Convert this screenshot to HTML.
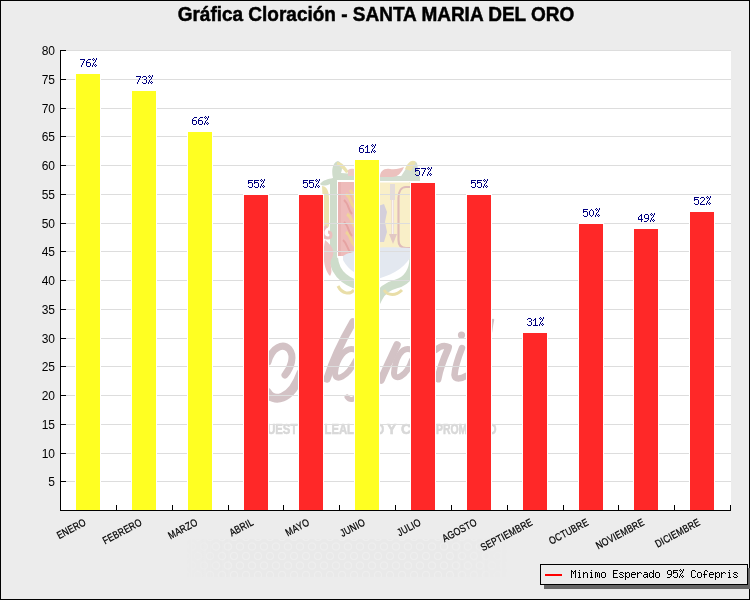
<!DOCTYPE html><html><head><meta charset="utf-8"><style>html,body{margin:0;padding:0;width:750px;height:600px;overflow:hidden;background:#ececec}svg{display:block;will-change:transform}text{font-family:"Liberation Sans",sans-serif}.m{font-family:"Liberation Mono",monospace}</style></head><body>
<svg width="750" height="600" viewBox="0 0 750 600">
<rect x="0" y="0" width="750" height="600" fill="#000"/>
<rect x="1" y="1" width="748" height="598" fill="#ececec"/>
<defs><pattern id="hex" x="0" y="0" width="12" height="19" patternUnits="userSpaceOnUse"><rect width="12" height="19" fill="#e5e5e5"/><circle cx="6" cy="5" r="3.6" fill="none" stroke="#f3f3f3" stroke-width="1.3"/><circle cx="0" cy="14.5" r="3.6" fill="none" stroke="#f3f3f3" stroke-width="1.3"/><circle cx="12" cy="14.5" r="3.6" fill="none" stroke="#f3f3f3" stroke-width="1.3"/></pattern><linearGradient id="bfade" x1="0" x2="1" y1="0" y2="0"><stop offset="0" stop-color="#fff" stop-opacity="0"/><stop offset="0.15" stop-color="#fff" stop-opacity="0.4"/><stop offset="0.8" stop-color="#fff" stop-opacity="0.4"/><stop offset="1" stop-color="#fff" stop-opacity="0"/></linearGradient><mask id="bmask"><rect x="185" y="538" width="325" height="40" fill="url(#bfade)"/></mask></defs>
<rect x="185" y="539" width="325" height="38" fill="url(#hex)" mask="url(#bmask)"/>
<text x="0" y="0" font-size="20.5" font-weight="bold" text-anchor="middle" fill="#000" stroke="#000" stroke-width="0.5" transform="translate(376,21) scale(0.927,1)">Gráfica Cloración - SANTA MARIA DEL ORO</text>
<rect x="61" y="50" width="670" height="460" fill="#fff"/>
<g id="coat">
<!-- left yellow edge -->
<path d="M322,186 C326,186 329,190 329,198 L329,226 C327,230 324,228 324,224 Z" fill="#ebe2ae"/>
<!-- left top knob + shoulder (green) -->
<path d="M333,178 C331,170 333,162 338,161 C342,162 343,168 341,173 L356,174 L356,180 L337,180 L337,262 L330,262 L330,184 C326,186 322,186 320,184 C323,180 328,179 333,178 Z" fill="#cfdccb"/>
<path d="M337,162 C342,162 345,166 349,172 L346,173 C343,169 340,166 337,165 Z" fill="#ebe2ae"/>
<path d="M348,170 C351,168 354,169 356,170 L356,176 L348,176 Z" fill="#eccbc9"/>
<!-- right top band + triangle -->
<path d="M378,176 L420,176 L420,181 L378,181 Z" fill="#d3ddd0"/>
<path d="M398,181 L407,167 C410,161 414,160 417,163 L420,181 Z" fill="#d3ddd0"/>
<path d="M405,169 C408,162 412,159 416,162 L411,171 Z" fill="#ebe2ae"/>
<path d="M380,177 C380,171 384,168 390,169 C396,170 400,168 404,167 C402,172 398,177 392,177 Z" fill="#ecc1be"/>
<!-- bottom green curve -->
<path d="M333.5,258 C335,276 350,284 366,287 C372,289 376,292 378,298 C382,290 388,286 396,284 C408,281 414,270 414,258 L414,182" fill="none" stroke="#cddcca" stroke-width="9"/>
<!-- pink left panel -->
<path d="M338,182 L372,182 L372,256 L338,256 Z" fill="#eebbba"/>
<path d="M338,182 L341,182 L341,256 L338,256 Z" fill="#e9b3b2"/>
<!-- flames -->
<path d="M346,194 C352,198 350,204 355,208 M347,214 C353,218 351,224 356,228 M346,232 C352,236 350,242 355,246 M350,190 C356,196 354,202 358,206 M351,220 C356,224 355,232 360,236" fill="none" stroke="#f0d39a" stroke-width="3"/>
<path d="M344,200 C349,204 348,210 352,214 M344,222 C349,226 348,232 352,236 M343,240 C348,244 347,250 351,253" fill="none" stroke="#e6a3a2" stroke-width="2"/>
<!-- pale yellow right panel -->
<path d="M372,182.5 L410,182.5 L410,248 L372,248 Z" fill="#f9efc8"/>
<!-- arrow -->
<rect x="391.5" y="186" width="2.5" height="54" fill="#e6d2cf"/>
<rect x="392.3" y="198" width="1" height="36" fill="#ffffff"/>
<path d="M390,184 L395,184 L395,200 L390,200 Z" fill="#e4dcda"/>
<path d="M389,234 L397,234 L393,244 Z" fill="#e2c8c4"/>
<!-- bow -->
<path d="M410,187 L406,187 C401,187 398.5,192 398.5,198 L398.5,240 C398.5,245 401,248 406,248 L410,248" fill="none" stroke="#dfbcba" stroke-width="2.2"/>
<!-- gray figure -->
<path d="M378,206 L384,204 L387,212 L385,222 L387,232 L384,242 L378,242 Z" fill="#d4cfdb"/>
<!-- blue white mountains -->
<path d="M343,256 C352,250 362,252 372,249 C385,246 398,248 410,248 L410,258 C402,270 390,276 373,280 C358,276 348,270 343,260 Z" fill="#e3e8f0"/>
<!-- left mantling pink -->
<path d="M327,226 C321,230 322,238 328,238 C332,238 332,232 328,232" fill="none" stroke="#ebbfbe" stroke-width="3"/>
<path d="M325,240 C330,244 336,250 332,258 C328,264 334,270 330,276 C324,270 322,256 325,240 Z" fill="#ecc4c3"/>
<!-- bottom curls -->
<path d="M338,286 C342,294 350,295 354,290" fill="none" stroke="#e9dea8" stroke-width="3"/>
<path d="M384,290 C388,296 396,296 402,290" fill="none" stroke="#e9dea8" stroke-width="3"/>
</g>
<g id="script" fill="none" stroke="#d3c2c5" stroke-linecap="round">
<path d="M285,375 C291,368 295,356 289,349 C283,343 272,347 268,362" stroke-width="7"/>
<path d="M267,392 C273,403 291,401 301,373" stroke-width="9"/>
<path d="M353,322 C346,334 334,356 327,379" stroke-width="7.5"/>
<path d="M356,350 C345,345 336,360 335,373 C335,382 347,378 356,360" stroke-width="6"/>
<path d="M347,397 C350,401 354,400 357,396" stroke-width="5"/>
<path d="M397,345 C392,356 386,368 381,380" stroke-width="7.5"/>
<path d="M412,350 C401,345 395,360 394,373 C394,381 406,378 412,360" stroke-width="6"/>
<path d="M436,350 C440,346 445,345 449,347" stroke-width="6"/>
<path d="M448,349 C444,358 440,368 438,379" stroke-width="7"/>
<path d="M462,348 C458,358 455,368 454.5,375 C455,380 461,379 466,376" stroke-width="6.5"/>
<path d="M493,320 C492,324 491.5,328 491,332" stroke-width="2.5"/>
<circle cx="461.5" cy="335" r="3.6" fill="#d3c2c5" stroke="none"/>
</g>
<g id="motto" fill="#d8d8d8" stroke="#d8d8d8" stroke-width="0.6" font-weight="bold" font-size="14.5">
<text x="0" y="0" transform="translate(259,434) scale(0.78,1)">NUEST</text>
<text x="0" y="0" transform="translate(324.5,434) scale(0.78,1)">LEAL</text>
<text x="0" y="0" transform="translate(376,434) scale(0.78,1)">D</text>
<text x="0" y="0" transform="translate(387,434) scale(0.97,1)">Y</text>
<text x="0" y="0" transform="translate(401,434) scale(0.97,1)">C</text>
<text x="0" y="0" transform="translate(436,434) scale(0.72,1)">PROM</text>
<text x="0" y="0" transform="translate(477,434) scale(0.78,1)">ISO</text>
</g>

<rect x="61" y="481" width="670" height="1" fill="#dddddd"/><rect x="61" y="453" width="670" height="1" fill="#dddddd"/><rect x="61" y="424" width="670" height="1" fill="#dddddd"/><rect x="61" y="395" width="670" height="1" fill="#dddddd"/><rect x="61" y="366" width="670" height="1" fill="#dddddd"/><rect x="61" y="338" width="670" height="1" fill="#dddddd"/><rect x="61" y="309" width="670" height="1" fill="#dddddd"/><rect x="61" y="280" width="670" height="1" fill="#dddddd"/><rect x="61" y="251" width="670" height="1" fill="#dddddd"/><rect x="61" y="223" width="670" height="1" fill="#dddddd"/><rect x="61" y="194" width="670" height="1" fill="#dddddd"/><rect x="61" y="165" width="670" height="1" fill="#dddddd"/><rect x="61" y="136" width="670" height="1" fill="#dddddd"/><rect x="61" y="108" width="670" height="1" fill="#dddddd"/><rect x="61" y="79" width="670" height="1" fill="#dddddd"/><rect x="61" y="50" width="670" height="1" fill="#dddddd"/>
<rect x="75" y="73" width="26" height="437" fill="#fff"/>
<rect x="76" y="74" width="24" height="436" fill="#ffff22"/>
<path d="M80 59h5v1h-5zM84 60h1v1h-1zM83 61h1v1h-1zM83 62h1v1h-1zM82 63h1v1h-1zM82 64h1v1h-1zM81 65h1v1h-1zM81 66h1v1h-1zM88 59h3v1h-3zM87 60h1v1h-1zM86 61h1v1h-1zM86 62h4v1h-4zM86 63h1v1h-1zM90 63h1v1h-1zM86 64h1v1h-1zM90 64h1v1h-1zM86 65h1v1h-1zM90 65h1v1h-1zM87 66h3v1h-3zM93 58h1v1h-1zM96 58h1v1h-1zM92 59h1v1h-1zM94 59h1v1h-1zM96 59h1v1h-1zM93 60h1v1h-1zM95 60h1v1h-1zM95 61h1v1h-1zM94 62h1v1h-1zM93 63h1v1h-1zM93 64h1v1h-1zM95 64h1v1h-1zM92 65h1v1h-1zM94 65h1v1h-1zM96 65h1v1h-1zM92 66h1v1h-1zM95 66h1v1h-1z" fill="#000080" shape-rendering="crispEdges"/>
<rect x="131" y="90" width="26" height="420" fill="#fff"/>
<rect x="132" y="91" width="24" height="419" fill="#ffff22"/>
<path d="M136 76h5v1h-5zM140 77h1v1h-1zM139 78h1v1h-1zM139 79h1v1h-1zM138 80h1v1h-1zM138 81h1v1h-1zM137 82h1v1h-1zM137 83h1v1h-1zM143 76h3v1h-3zM142 77h1v1h-1zM146 77h1v1h-1zM146 78h1v1h-1zM144 79h2v1h-2zM146 80h1v1h-1zM146 81h1v1h-1zM142 82h1v1h-1zM146 82h1v1h-1zM143 83h3v1h-3zM149 75h1v1h-1zM152 75h1v1h-1zM148 76h1v1h-1zM150 76h1v1h-1zM152 76h1v1h-1zM149 77h1v1h-1zM151 77h1v1h-1zM151 78h1v1h-1zM150 79h1v1h-1zM149 80h1v1h-1zM149 81h1v1h-1zM151 81h1v1h-1zM148 82h1v1h-1zM150 82h1v1h-1zM152 82h1v1h-1zM148 83h1v1h-1zM151 83h1v1h-1z" fill="#000080" shape-rendering="crispEdges"/>
<rect x="187" y="131" width="26" height="379" fill="#fff"/>
<rect x="188" y="132" width="24" height="378" fill="#ffff22"/>
<path d="M194 117h3v1h-3zM193 118h1v1h-1zM192 119h1v1h-1zM192 120h4v1h-4zM192 121h1v1h-1zM196 121h1v1h-1zM192 122h1v1h-1zM196 122h1v1h-1zM192 123h1v1h-1zM196 123h1v1h-1zM193 124h3v1h-3zM200 117h3v1h-3zM199 118h1v1h-1zM198 119h1v1h-1zM198 120h4v1h-4zM198 121h1v1h-1zM202 121h1v1h-1zM198 122h1v1h-1zM202 122h1v1h-1zM198 123h1v1h-1zM202 123h1v1h-1zM199 124h3v1h-3zM205 116h1v1h-1zM208 116h1v1h-1zM204 117h1v1h-1zM206 117h1v1h-1zM208 117h1v1h-1zM205 118h1v1h-1zM207 118h1v1h-1zM207 119h1v1h-1zM206 120h1v1h-1zM205 121h1v1h-1zM205 122h1v1h-1zM207 122h1v1h-1zM204 123h1v1h-1zM206 123h1v1h-1zM208 123h1v1h-1zM204 124h1v1h-1zM207 124h1v1h-1z" fill="#000080" shape-rendering="crispEdges"/>
<rect x="243" y="194" width="26" height="316" fill="#fff"/>
<rect x="244" y="195" width="24" height="315" fill="#ff2828"/>
<path d="M248 180h5v1h-5zM248 181h1v1h-1zM248 182h4v1h-4zM248 183h1v1h-1zM252 183h1v1h-1zM252 184h1v1h-1zM252 185h1v1h-1zM248 186h1v1h-1zM252 186h1v1h-1zM249 187h3v1h-3zM254 180h5v1h-5zM254 181h1v1h-1zM254 182h4v1h-4zM254 183h1v1h-1zM258 183h1v1h-1zM258 184h1v1h-1zM258 185h1v1h-1zM254 186h1v1h-1zM258 186h1v1h-1zM255 187h3v1h-3zM261 179h1v1h-1zM264 179h1v1h-1zM260 180h1v1h-1zM262 180h1v1h-1zM264 180h1v1h-1zM261 181h1v1h-1zM263 181h1v1h-1zM263 182h1v1h-1zM262 183h1v1h-1zM261 184h1v1h-1zM261 185h1v1h-1zM263 185h1v1h-1zM260 186h1v1h-1zM262 186h1v1h-1zM264 186h1v1h-1zM260 187h1v1h-1zM263 187h1v1h-1z" fill="#000080" shape-rendering="crispEdges"/>
<rect x="298" y="194" width="26" height="316" fill="#fff"/>
<rect x="299" y="195" width="24" height="315" fill="#ff2828"/>
<path d="M303 180h5v1h-5zM303 181h1v1h-1zM303 182h4v1h-4zM303 183h1v1h-1zM307 183h1v1h-1zM307 184h1v1h-1zM307 185h1v1h-1zM303 186h1v1h-1zM307 186h1v1h-1zM304 187h3v1h-3zM309 180h5v1h-5zM309 181h1v1h-1zM309 182h4v1h-4zM309 183h1v1h-1zM313 183h1v1h-1zM313 184h1v1h-1zM313 185h1v1h-1zM309 186h1v1h-1zM313 186h1v1h-1zM310 187h3v1h-3zM316 179h1v1h-1zM319 179h1v1h-1zM315 180h1v1h-1zM317 180h1v1h-1zM319 180h1v1h-1zM316 181h1v1h-1zM318 181h1v1h-1zM318 182h1v1h-1zM317 183h1v1h-1zM316 184h1v1h-1zM316 185h1v1h-1zM318 185h1v1h-1zM315 186h1v1h-1zM317 186h1v1h-1zM319 186h1v1h-1zM315 187h1v1h-1zM318 187h1v1h-1z" fill="#000080" shape-rendering="crispEdges"/>
<rect x="354" y="159" width="26" height="351" fill="#fff"/>
<rect x="355" y="160" width="24" height="350" fill="#ffff22"/>
<path d="M361 145h3v1h-3zM360 146h1v1h-1zM359 147h1v1h-1zM359 148h4v1h-4zM359 149h1v1h-1zM363 149h1v1h-1zM359 150h1v1h-1zM363 150h1v1h-1zM359 151h1v1h-1zM363 151h1v1h-1zM360 152h3v1h-3zM367 145h1v1h-1zM366 146h2v1h-2zM365 147h1v1h-1zM367 147h1v1h-1zM367 148h1v1h-1zM367 149h1v1h-1zM367 150h1v1h-1zM367 151h1v1h-1zM365 152h5v1h-5zM372 144h1v1h-1zM375 144h1v1h-1zM371 145h1v1h-1zM373 145h1v1h-1zM375 145h1v1h-1zM372 146h1v1h-1zM374 146h1v1h-1zM374 147h1v1h-1zM373 148h1v1h-1zM372 149h1v1h-1zM372 150h1v1h-1zM374 150h1v1h-1zM371 151h1v1h-1zM373 151h1v1h-1zM375 151h1v1h-1zM371 152h1v1h-1zM374 152h1v1h-1z" fill="#000080" shape-rendering="crispEdges"/>
<rect x="410" y="182" width="26" height="328" fill="#fff"/>
<rect x="411" y="183" width="24" height="327" fill="#ff2828"/>
<path d="M415 168h5v1h-5zM415 169h1v1h-1zM415 170h4v1h-4zM415 171h1v1h-1zM419 171h1v1h-1zM419 172h1v1h-1zM419 173h1v1h-1zM415 174h1v1h-1zM419 174h1v1h-1zM416 175h3v1h-3zM421 168h5v1h-5zM425 169h1v1h-1zM424 170h1v1h-1zM424 171h1v1h-1zM423 172h1v1h-1zM423 173h1v1h-1zM422 174h1v1h-1zM422 175h1v1h-1zM428 167h1v1h-1zM431 167h1v1h-1zM427 168h1v1h-1zM429 168h1v1h-1zM431 168h1v1h-1zM428 169h1v1h-1zM430 169h1v1h-1zM430 170h1v1h-1zM429 171h1v1h-1zM428 172h1v1h-1zM428 173h1v1h-1zM430 173h1v1h-1zM427 174h1v1h-1zM429 174h1v1h-1zM431 174h1v1h-1zM427 175h1v1h-1zM430 175h1v1h-1z" fill="#000080" shape-rendering="crispEdges"/>
<rect x="466" y="194" width="26" height="316" fill="#fff"/>
<rect x="467" y="195" width="24" height="315" fill="#ff2828"/>
<path d="M471 180h5v1h-5zM471 181h1v1h-1zM471 182h4v1h-4zM471 183h1v1h-1zM475 183h1v1h-1zM475 184h1v1h-1zM475 185h1v1h-1zM471 186h1v1h-1zM475 186h1v1h-1zM472 187h3v1h-3zM477 180h5v1h-5zM477 181h1v1h-1zM477 182h4v1h-4zM477 183h1v1h-1zM481 183h1v1h-1zM481 184h1v1h-1zM481 185h1v1h-1zM477 186h1v1h-1zM481 186h1v1h-1zM478 187h3v1h-3zM484 179h1v1h-1zM487 179h1v1h-1zM483 180h1v1h-1zM485 180h1v1h-1zM487 180h1v1h-1zM484 181h1v1h-1zM486 181h1v1h-1zM486 182h1v1h-1zM485 183h1v1h-1zM484 184h1v1h-1zM484 185h1v1h-1zM486 185h1v1h-1zM483 186h1v1h-1zM485 186h1v1h-1zM487 186h1v1h-1zM483 187h1v1h-1zM486 187h1v1h-1z" fill="#000080" shape-rendering="crispEdges"/>
<rect x="522" y="332" width="26" height="178" fill="#fff"/>
<rect x="523" y="333" width="24" height="177" fill="#ff2828"/>
<path d="M528 318h3v1h-3zM527 319h1v1h-1zM531 319h1v1h-1zM531 320h1v1h-1zM529 321h2v1h-2zM531 322h1v1h-1zM531 323h1v1h-1zM527 324h1v1h-1zM531 324h1v1h-1zM528 325h3v1h-3zM535 318h1v1h-1zM534 319h2v1h-2zM533 320h1v1h-1zM535 320h1v1h-1zM535 321h1v1h-1zM535 322h1v1h-1zM535 323h1v1h-1zM535 324h1v1h-1zM533 325h5v1h-5zM540 317h1v1h-1zM543 317h1v1h-1zM539 318h1v1h-1zM541 318h1v1h-1zM543 318h1v1h-1zM540 319h1v1h-1zM542 319h1v1h-1zM542 320h1v1h-1zM541 321h1v1h-1zM540 322h1v1h-1zM540 323h1v1h-1zM542 323h1v1h-1zM539 324h1v1h-1zM541 324h1v1h-1zM543 324h1v1h-1zM539 325h1v1h-1zM542 325h1v1h-1z" fill="#000080" shape-rendering="crispEdges"/>
<rect x="578" y="223" width="26" height="287" fill="#fff"/>
<rect x="579" y="224" width="24" height="286" fill="#ff2828"/>
<path d="M583 209h5v1h-5zM583 210h1v1h-1zM583 211h4v1h-4zM583 212h1v1h-1zM587 212h1v1h-1zM587 213h1v1h-1zM587 214h1v1h-1zM583 215h1v1h-1zM587 215h1v1h-1zM584 216h3v1h-3zM591 209h1v1h-1zM590 210h1v1h-1zM592 210h1v1h-1zM589 211h1v1h-1zM593 211h1v1h-1zM589 212h1v1h-1zM593 212h1v1h-1zM589 213h1v1h-1zM593 213h1v1h-1zM589 214h1v1h-1zM593 214h1v1h-1zM590 215h1v1h-1zM592 215h1v1h-1zM591 216h1v1h-1zM596 208h1v1h-1zM599 208h1v1h-1zM595 209h1v1h-1zM597 209h1v1h-1zM599 209h1v1h-1zM596 210h1v1h-1zM598 210h1v1h-1zM598 211h1v1h-1zM597 212h1v1h-1zM596 213h1v1h-1zM596 214h1v1h-1zM598 214h1v1h-1zM595 215h1v1h-1zM597 215h1v1h-1zM599 215h1v1h-1zM595 216h1v1h-1zM598 216h1v1h-1z" fill="#000080" shape-rendering="crispEdges"/>
<rect x="633" y="228" width="26" height="282" fill="#fff"/>
<rect x="634" y="229" width="24" height="281" fill="#ff2828"/>
<path d="M641 214h1v1h-1zM640 215h2v1h-2zM639 216h1v1h-1zM641 216h1v1h-1zM638 217h1v1h-1zM641 217h1v1h-1zM638 218h1v1h-1zM641 218h1v1h-1zM638 219h5v1h-5zM641 220h1v1h-1zM641 221h1v1h-1zM645 214h3v1h-3zM644 215h1v1h-1zM648 215h1v1h-1zM644 216h1v1h-1zM648 216h1v1h-1zM644 217h1v1h-1zM648 217h1v1h-1zM645 218h4v1h-4zM648 219h1v1h-1zM647 220h1v1h-1zM644 221h3v1h-3zM651 213h1v1h-1zM654 213h1v1h-1zM650 214h1v1h-1zM652 214h1v1h-1zM654 214h1v1h-1zM651 215h1v1h-1zM653 215h1v1h-1zM653 216h1v1h-1zM652 217h1v1h-1zM651 218h1v1h-1zM651 219h1v1h-1zM653 219h1v1h-1zM650 220h1v1h-1zM652 220h1v1h-1zM654 220h1v1h-1zM650 221h1v1h-1zM653 221h1v1h-1z" fill="#000080" shape-rendering="crispEdges"/>
<rect x="689" y="211" width="26" height="299" fill="#fff"/>
<rect x="690" y="212" width="24" height="298" fill="#ff2828"/>
<path d="M694 197h5v1h-5zM694 198h1v1h-1zM694 199h4v1h-4zM694 200h1v1h-1zM698 200h1v1h-1zM698 201h1v1h-1zM698 202h1v1h-1zM694 203h1v1h-1zM698 203h1v1h-1zM695 204h3v1h-3zM701 197h3v1h-3zM700 198h1v1h-1zM704 198h1v1h-1zM704 199h1v1h-1zM703 200h1v1h-1zM702 201h1v1h-1zM701 202h1v1h-1zM700 203h1v1h-1zM700 204h5v1h-5zM707 196h1v1h-1zM710 196h1v1h-1zM706 197h1v1h-1zM708 197h1v1h-1zM710 197h1v1h-1zM707 198h1v1h-1zM709 198h1v1h-1zM709 199h1v1h-1zM708 200h1v1h-1zM707 201h1v1h-1zM707 202h1v1h-1zM709 202h1v1h-1zM706 203h1v1h-1zM708 203h1v1h-1zM710 203h1v1h-1zM706 204h1v1h-1zM709 204h1v1h-1z" fill="#000080" shape-rendering="crispEdges"/>
<rect x="60" y="50" width="1" height="461" fill="#000"/>
<rect x="60" y="510" width="671" height="1" fill="#000"/>
<rect x="60" y="481" width="6" height="1" fill="#000"/>
<text x="55" y="485.5" font-size="12" text-anchor="end" fill="#000">5</text>
<rect x="60" y="453" width="6" height="1" fill="#000"/>
<text x="55" y="457.5" font-size="12" text-anchor="end" fill="#000">10</text>
<rect x="60" y="424" width="6" height="1" fill="#000"/>
<text x="55" y="428.5" font-size="12" text-anchor="end" fill="#000">15</text>
<rect x="60" y="395" width="6" height="1" fill="#000"/>
<text x="55" y="399.5" font-size="12" text-anchor="end" fill="#000">20</text>
<rect x="60" y="366" width="6" height="1" fill="#000"/>
<text x="55" y="370.5" font-size="12" text-anchor="end" fill="#000">25</text>
<rect x="60" y="338" width="6" height="1" fill="#000"/>
<text x="55" y="342.5" font-size="12" text-anchor="end" fill="#000">30</text>
<rect x="60" y="309" width="6" height="1" fill="#000"/>
<text x="55" y="313.5" font-size="12" text-anchor="end" fill="#000">35</text>
<rect x="60" y="280" width="6" height="1" fill="#000"/>
<text x="55" y="284.5" font-size="12" text-anchor="end" fill="#000">40</text>
<rect x="60" y="251" width="6" height="1" fill="#000"/>
<text x="55" y="255.5" font-size="12" text-anchor="end" fill="#000">45</text>
<rect x="60" y="223" width="6" height="1" fill="#000"/>
<text x="55" y="227.5" font-size="12" text-anchor="end" fill="#000">50</text>
<rect x="60" y="194" width="6" height="1" fill="#000"/>
<text x="55" y="198.5" font-size="12" text-anchor="end" fill="#000">55</text>
<rect x="60" y="165" width="6" height="1" fill="#000"/>
<text x="55" y="169.5" font-size="12" text-anchor="end" fill="#000">60</text>
<rect x="60" y="136" width="6" height="1" fill="#000"/>
<text x="55" y="140.5" font-size="12" text-anchor="end" fill="#000">65</text>
<rect x="60" y="108" width="6" height="1" fill="#000"/>
<text x="55" y="112.5" font-size="12" text-anchor="end" fill="#000">70</text>
<rect x="60" y="79" width="6" height="1" fill="#000"/>
<text x="55" y="83.5" font-size="12" text-anchor="end" fill="#000">75</text>
<rect x="60" y="50" width="6" height="1" fill="#000"/>
<text x="55" y="54.5" font-size="12" text-anchor="end" fill="#000">80</text>
<rect x="116" y="505" width="1" height="5" fill="#000"/>
<rect x="172" y="505" width="1" height="5" fill="#000"/>
<rect x="228" y="505" width="1" height="5" fill="#000"/>
<rect x="283" y="505" width="1" height="5" fill="#000"/>
<rect x="339" y="505" width="1" height="5" fill="#000"/>
<rect x="395" y="505" width="1" height="5" fill="#000"/>
<rect x="451" y="505" width="1" height="5" fill="#000"/>
<rect x="507" y="505" width="1" height="5" fill="#000"/>
<rect x="563" y="505" width="1" height="5" fill="#000"/>
<rect x="618" y="505" width="1" height="5" fill="#000"/>
<rect x="674" y="505" width="1" height="5" fill="#000"/>
<rect x="730" y="505" width="1" height="5" fill="#000"/>
<text x="0" y="0" font-size="10.5" text-anchor="end" fill="#000" stroke="#000" stroke-width="0.25" letter-spacing="0.3" transform="translate(86.9,524.5) rotate(-28) scale(0.81,1)">ENERO</text>
<text x="0" y="0" font-size="10.5" text-anchor="end" fill="#000" stroke="#000" stroke-width="0.25" letter-spacing="0.3" transform="translate(142.8,524.5) rotate(-28) scale(0.81,1)">FEBRERO</text>
<text x="0" y="0" font-size="10.5" text-anchor="end" fill="#000" stroke="#000" stroke-width="0.25" letter-spacing="0.3" transform="translate(198.6,524.5) rotate(-28) scale(0.81,1)">MARZO</text>
<text x="0" y="0" font-size="10.5" text-anchor="end" fill="#000" stroke="#000" stroke-width="0.25" letter-spacing="0.3" transform="translate(254.4,524.5) rotate(-28) scale(0.81,1)">ABRIL</text>
<text x="0" y="0" font-size="10.5" text-anchor="end" fill="#000" stroke="#000" stroke-width="0.25" letter-spacing="0.3" transform="translate(310.2,524.5) rotate(-28) scale(0.81,1)">MAYO</text>
<text x="0" y="0" font-size="10.5" text-anchor="end" fill="#000" stroke="#000" stroke-width="0.25" letter-spacing="0.3" transform="translate(366.1,524.5) rotate(-28) scale(0.81,1)">JUNIO</text>
<text x="0" y="0" font-size="10.5" text-anchor="end" fill="#000" stroke="#000" stroke-width="0.25" letter-spacing="0.3" transform="translate(421.9,524.5) rotate(-28) scale(0.81,1)">JULIO</text>
<text x="0" y="0" font-size="10.5" text-anchor="end" fill="#000" stroke="#000" stroke-width="0.25" letter-spacing="0.3" transform="translate(477.8,524.5) rotate(-28) scale(0.81,1)">AGOSTO</text>
<text x="0" y="0" font-size="10.5" text-anchor="end" fill="#000" stroke="#000" stroke-width="0.25" letter-spacing="0.3" transform="translate(533.6,524.5) rotate(-28) scale(0.81,1)">SEPTIEMBRE</text>
<text x="0" y="0" font-size="10.5" text-anchor="end" fill="#000" stroke="#000" stroke-width="0.25" letter-spacing="0.3" transform="translate(589.4,524.5) rotate(-28) scale(0.81,1)">OCTUBRE</text>
<text x="0" y="0" font-size="10.5" text-anchor="end" fill="#000" stroke="#000" stroke-width="0.25" letter-spacing="0.3" transform="translate(645.2,524.5) rotate(-28) scale(0.81,1)">NOVIEMBRE</text>
<text x="0" y="0" font-size="10.5" text-anchor="end" fill="#000" stroke="#000" stroke-width="0.25" letter-spacing="0.3" transform="translate(701.1,524.5) rotate(-28) scale(0.81,1)">DICIEMBRE</text>
<rect x="544" y="568" width="206" height="21" fill="#666"/>
<rect x="540" y="564" width="208" height="21" fill="#000"/>
<rect x="541" y="565" width="206" height="19" fill="#ececec"/>
<rect x="545" y="574" width="17" height="2" fill="#ff0000"/>
<path d="M571 570h1v1h-1zM575 570h1v1h-1zM571 571h2v1h-2zM574 571h2v1h-2zM571 572h1v1h-1zM573 572h1v1h-1zM575 572h1v1h-1zM571 573h1v1h-1zM573 573h1v1h-1zM575 573h1v1h-1zM571 574h1v1h-1zM575 574h1v1h-1zM571 575h1v1h-1zM575 575h1v1h-1zM571 576h1v1h-1zM575 576h1v1h-1zM571 577h1v1h-1zM575 577h1v1h-1zM579 570h1v1h-1zM578 572h2v1h-2zM579 573h1v1h-1zM579 574h1v1h-1zM579 575h1v1h-1zM579 576h1v1h-1zM578 577h3v1h-3zM583 572h1v1h-1zM585 572h2v1h-2zM583 573h2v1h-2zM587 573h1v1h-1zM583 574h1v1h-1zM587 574h1v1h-1zM583 575h1v1h-1zM587 575h1v1h-1zM583 576h1v1h-1zM587 576h1v1h-1zM583 577h1v1h-1zM587 577h1v1h-1zM591 570h1v1h-1zM590 572h2v1h-2zM591 573h1v1h-1zM591 574h1v1h-1zM591 575h1v1h-1zM591 576h1v1h-1zM590 577h3v1h-3zM595 572h2v1h-2zM598 572h1v1h-1zM595 573h1v1h-1zM597 573h1v1h-1zM599 573h1v1h-1zM595 574h1v1h-1zM597 574h1v1h-1zM599 574h1v1h-1zM595 575h1v1h-1zM597 575h1v1h-1zM599 575h1v1h-1zM595 576h1v1h-1zM597 576h1v1h-1zM599 576h1v1h-1zM595 577h1v1h-1zM599 577h1v1h-1zM602 572h3v1h-3zM601 573h1v1h-1zM605 573h1v1h-1zM601 574h1v1h-1zM605 574h1v1h-1zM601 575h1v1h-1zM605 575h1v1h-1zM601 576h1v1h-1zM605 576h1v1h-1zM602 577h3v1h-3zM613 570h5v1h-5zM613 571h1v1h-1zM613 572h1v1h-1zM613 573h4v1h-4zM613 574h1v1h-1zM613 575h1v1h-1zM613 576h1v1h-1zM613 577h5v1h-5zM620 572h3v1h-3zM619 573h1v1h-1zM623 573h1v1h-1zM620 574h2v1h-2zM622 575h1v1h-1zM619 576h1v1h-1zM623 576h1v1h-1zM620 577h3v1h-3zM625 572h1v1h-1zM627 572h2v1h-2zM625 573h2v1h-2zM629 573h1v1h-1zM625 574h1v1h-1zM629 574h1v1h-1zM625 575h1v1h-1zM629 575h1v1h-1zM625 576h2v1h-2zM629 576h1v1h-1zM625 577h1v1h-1zM627 577h2v1h-2zM625 578h1v1h-1zM625 579h1v1h-1zM632 572h3v1h-3zM631 573h1v1h-1zM635 573h1v1h-1zM631 574h5v1h-5zM631 575h1v1h-1zM631 576h1v1h-1zM632 577h3v1h-3zM637 572h1v1h-1zM639 572h2v1h-2zM637 573h2v1h-2zM641 573h1v1h-1zM637 574h1v1h-1zM637 575h1v1h-1zM637 576h1v1h-1zM637 577h1v1h-1zM644 572h3v1h-3zM647 573h1v1h-1zM644 574h4v1h-4zM643 575h1v1h-1zM647 575h1v1h-1zM643 576h1v1h-1zM646 576h2v1h-2zM644 577h2v1h-2zM647 577h1v1h-1zM653 570h1v1h-1zM653 571h1v1h-1zM650 572h2v1h-2zM653 572h1v1h-1zM649 573h1v1h-1zM652 573h2v1h-2zM649 574h1v1h-1zM653 574h1v1h-1zM649 575h1v1h-1zM653 575h1v1h-1zM649 576h1v1h-1zM652 576h2v1h-2zM650 577h2v1h-2zM653 577h1v1h-1zM656 572h3v1h-3zM655 573h1v1h-1zM659 573h1v1h-1zM655 574h1v1h-1zM659 574h1v1h-1zM655 575h1v1h-1zM659 575h1v1h-1zM655 576h1v1h-1zM659 576h1v1h-1zM656 577h3v1h-3zM668 570h3v1h-3zM667 571h1v1h-1zM671 571h1v1h-1zM667 572h1v1h-1zM671 572h1v1h-1zM667 573h1v1h-1zM671 573h1v1h-1zM668 574h4v1h-4zM671 575h1v1h-1zM670 576h1v1h-1zM667 577h3v1h-3zM673 570h5v1h-5zM673 571h1v1h-1zM673 572h4v1h-4zM673 573h1v1h-1zM677 573h1v1h-1zM677 574h1v1h-1zM677 575h1v1h-1zM673 576h1v1h-1zM677 576h1v1h-1zM674 577h3v1h-3zM680 569h1v1h-1zM683 569h1v1h-1zM679 570h1v1h-1zM681 570h1v1h-1zM683 570h1v1h-1zM680 571h1v1h-1zM682 571h1v1h-1zM682 572h1v1h-1zM681 573h1v1h-1zM680 574h1v1h-1zM680 575h1v1h-1zM682 575h1v1h-1zM679 576h1v1h-1zM681 576h1v1h-1zM683 576h1v1h-1zM679 577h1v1h-1zM682 577h1v1h-1zM692 570h3v1h-3zM691 571h1v1h-1zM695 571h1v1h-1zM691 572h1v1h-1zM691 573h1v1h-1zM691 574h1v1h-1zM691 575h1v1h-1zM691 576h1v1h-1zM695 576h1v1h-1zM692 577h3v1h-3zM698 572h3v1h-3zM697 573h1v1h-1zM701 573h1v1h-1zM697 574h1v1h-1zM701 574h1v1h-1zM697 575h1v1h-1zM701 575h1v1h-1zM697 576h1v1h-1zM701 576h1v1h-1zM698 577h3v1h-3zM705 570h2v1h-2zM704 571h1v1h-1zM707 571h1v1h-1zM704 572h1v1h-1zM704 573h1v1h-1zM703 574h4v1h-4zM704 575h1v1h-1zM704 576h1v1h-1zM704 577h1v1h-1zM710 572h3v1h-3zM709 573h1v1h-1zM713 573h1v1h-1zM709 574h5v1h-5zM709 575h1v1h-1zM709 576h1v1h-1zM710 577h3v1h-3zM715 572h1v1h-1zM717 572h2v1h-2zM715 573h2v1h-2zM719 573h1v1h-1zM715 574h1v1h-1zM719 574h1v1h-1zM715 575h1v1h-1zM719 575h1v1h-1zM715 576h2v1h-2zM719 576h1v1h-1zM715 577h1v1h-1zM717 577h2v1h-2zM715 578h1v1h-1zM715 579h1v1h-1zM721 572h1v1h-1zM723 572h2v1h-2zM721 573h2v1h-2zM725 573h1v1h-1zM721 574h1v1h-1zM721 575h1v1h-1zM721 576h1v1h-1zM721 577h1v1h-1zM729 570h1v1h-1zM728 572h2v1h-2zM729 573h1v1h-1zM729 574h1v1h-1zM729 575h1v1h-1zM729 576h1v1h-1zM728 577h3v1h-3zM734 572h3v1h-3zM733 573h1v1h-1zM737 573h1v1h-1zM734 574h2v1h-2zM736 575h1v1h-1zM733 576h1v1h-1zM737 576h1v1h-1zM734 577h3v1h-3z" fill="#000" shape-rendering="crispEdges"/>
</svg></body></html>
